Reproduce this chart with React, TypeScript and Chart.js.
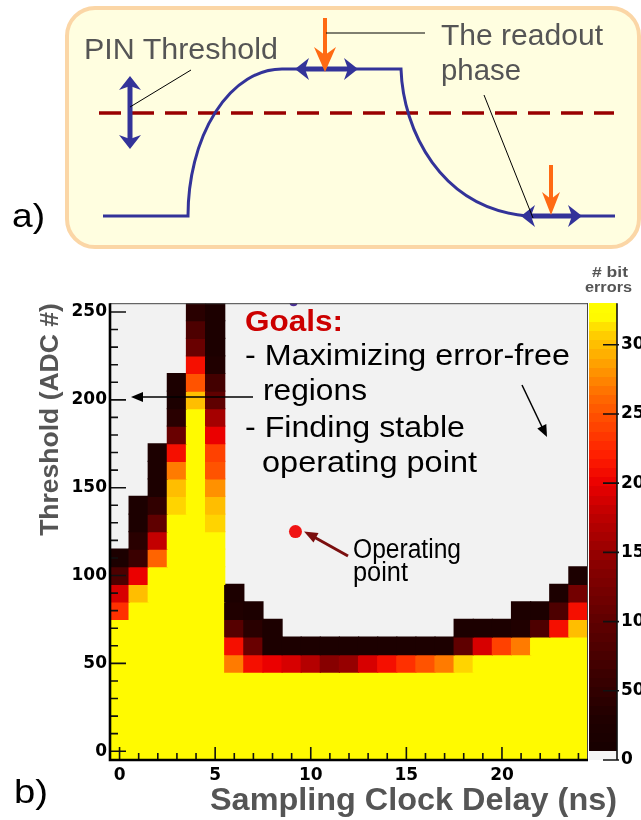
import React, { useEffect, useRef } from "react";
import { Chart, registerables } from "chart.js";
Chart.register(...registerables);

// ---------- data ----------
const delays = [0, 1, 2, 3, 4, 5, 6, 7, 8, 9, 10, 11, 12, 13, 14, 15, 16, 17, 18, 19, 20, 21, 22, 23, 24];
const thresholds = [250, 240, 230, 220, 210, 200, 190, 180, 170, 160, 150, 140, 130, 120, 110, 100, 90, 80, 70, 60, 50, 40, 30, 20, 10, 0];
// bit errors per threshold row (top to bottom), one value per delay column
const bitErrors = [
  [0, 0, 0, 0, 40, 20, 0, 0, 0, 0, 0, 0, 0, 0, 0, 0, 0, 0, 0, 0, 0, 0, 0, 0, 0],
  [0, 0, 0, 0, 80, 20, 0, 0, 0, 0, 0, 0, 0, 0, 0, 0, 0, 0, 0, 0, 0, 0, 0, 0, 0],
  [0, 0, 0, 0, 110, 20, 0, 0, 0, 0, 0, 0, 0, 0, 0, 0, 0, 0, 0, 0, 0, 0, 0, 0, 0],
  [0, 0, 0, 0, 210, 30, 0, 0, 0, 0, 0, 0, 0, 0, 0, 0, 0, 0, 0, 0, 0, 0, 0, 0, 0],
  [0, 0, 0, 20, 250, 70, 0, 0, 0, 0, 0, 0, 0, 0, 0, 0, 0, 0, 0, 0, 0, 0, 0, 0, 0],
  [0, 0, 0, 20, 300, 100, 0, 0, 0, 0, 0, 0, 0, 0, 0, 0, 0, 0, 0, 0, 0, 0, 0, 0, 0],
  [0, 0, 0, 40, 320, 160, 0, 0, 0, 0, 0, 0, 0, 0, 0, 0, 0, 0, 0, 0, 0, 0, 0, 0, 0],
  [0, 0, 0, 110, 320, 200, 0, 0, 0, 0, 0, 0, 0, 0, 0, 0, 0, 0, 0, 0, 0, 0, 0, 0, 0],
  [0, 0, 20, 210, 320, 240, 0, 0, 0, 0, 0, 0, 0, 0, 0, 0, 0, 0, 0, 0, 0, 0, 0, 0, 0],
  [0, 0, 20, 270, 320, 250, 0, 0, 0, 0, 0, 0, 0, 0, 0, 0, 0, 0, 0, 0, 0, 0, 0, 0, 0],
  [0, 0, 20, 300, 320, 280, 0, 0, 0, 0, 0, 0, 0, 0, 0, 0, 0, 0, 0, 0, 0, 0, 0, 0, 0],
  [0, 20, 50, 310, 320, 300, 0, 0, 0, 0, 0, 0, 0, 0, 0, 0, 0, 0, 0, 0, 0, 0, 0, 0, 0],
  [0, 20, 100, 320, 320, 310, 0, 0, 0, 0, 0, 0, 0, 0, 0, 0, 0, 0, 0, 0, 0, 0, 0, 0, 0],
  [0, 40, 180, 320, 320, 320, 0, 0, 0, 0, 0, 0, 0, 0, 0, 0, 0, 0, 0, 0, 0, 0, 0, 0, 0],
  [20, 60, 260, 320, 320, 320, 0, 0, 0, 0, 0, 0, 0, 0, 0, 0, 0, 0, 0, 0, 0, 0, 0, 0, 0],
  [80, 200, 320, 320, 320, 320, 0, 0, 0, 0, 0, 0, 0, 0, 0, 0, 0, 0, 0, 0, 0, 0, 0, 0, 20],
  [190, 300, 320, 320, 320, 320, 20, 0, 0, 0, 0, 0, 0, 0, 0, 0, 0, 0, 0, 0, 0, 0, 0, 20, 120],
  [230, 320, 320, 320, 320, 320, 30, 20, 0, 0, 0, 0, 0, 0, 0, 0, 0, 0, 0, 0, 0, 20, 20, 80, 210],
  [320, 320, 320, 320, 320, 320, 90, 40, 20, 0, 0, 0, 0, 0, 0, 0, 0, 0, 20, 20, 20, 30, 80, 210, 300],
  [320, 320, 320, 320, 320, 320, 210, 110, 20, 20, 20, 20, 20, 20, 20, 20, 20, 20, 100, 190, 240, 270, 320, 320, 320],
  [320, 320, 320, 320, 320, 320, 270, 210, 200, 190, 170, 140, 150, 190, 210, 230, 250, 270, 310, 320, 320, 320, 320, 320, 320],
  [320, 320, 320, 320, 320, 320, 320, 320, 320, 320, 320, 320, 320, 320, 320, 320, 320, 320, 320, 320, 320, 320, 320, 320, 320],
  [320, 320, 320, 320, 320, 320, 320, 320, 320, 320, 320, 320, 320, 320, 320, 320, 320, 320, 320, 320, 320, 320, 320, 320, 320],
  [320, 320, 320, 320, 320, 320, 320, 320, 320, 320, 320, 320, 320, 320, 320, 320, 320, 320, 320, 320, 320, 320, 320, 320, 320],
  [320, 320, 320, 320, 320, 320, 320, 320, 320, 320, 320, 320, 320, 320, 320, 320, 320, 320, 320, 320, 320, 320, 320, 320, 320],
  [320, 320, 320, 320, 320, 320, 320, 320, 320, 320, 320, 320, 320, 320, 320, 320, 320, 320, 320, 320, 320, 320, 320, 320, 320],
];
const xTickValues = [0, 5, 10, 15, 20];
const yTickValues = [0, 50, 100, 150, 200, 250];
const zTickValues = [0, 50, 100, 150, 200, 250, 300];
const operatingPoint = [{ x: 9.2, y: 125 }];
const topMarker = [{ x: 9.1, y: 255.5 }];

const BIN_HALF = 5;
const Z_MAX = 330;

// ---------- palette ----------
const paletteStops: [number, number[]][] = [
  [5, [22, 0, 0]],
  [30, [32, 0, 0]],
  [60, [58, 0, 0]],
  [100, [95, 0, 0]],
  [140, [135, 0, 0]],
  [180, [195, 0, 0]],
  [200, [235, 0, 0]],
  [220, [255, 30, 0]],
  [240, [255, 65, 0]],
  [260, [255, 100, 0]],
  [280, [255, 145, 0]],
  [300, [255, 190, 0]],
  [310, [255, 212, 0]],
  [320, [255, 250, 0]],
  [330, [255, 255, 0]],
];
function paletteColor(v: number): string {
  if (v <= 0) return "rgba(0,0,0,0)";
  const s = paletteStops;
  if (v <= s[0][0]) return `rgb(${s[0][1].join(",")})`;
  for (let i = 1; i < s.length; i++) {
    if (v <= s[i][0]) {
      const t = (v - s[i - 1][0]) / (s[i][0] - s[i - 1][0]);
      const c = s[i - 1][1].map((a, k) => Math.round(a + (s[i][1][k] - a) * t));
      return `rgb(${c.join(",")})`;
    }
  }
  return `rgb(${s[s.length - 1][1].join(",")})`;
}

const tickFont = { family: "'DejaVu Sans', sans-serif", size: 17, weight: "bold" as const };

const bgPlugin = {
  id: "plotBg",
  beforeDatasetsDraw(chart: any) {
    const { ctx, chartArea: a } = chart;
    ctx.save();
    ctx.fillStyle = "#f2f2f2";
    ctx.fillRect(a.left, a.top, a.right - a.left, a.bottom - a.top);
    ctx.restore();
  },
};

const framePlugin = {
  id: "frameTicks",
  afterDatasetsDraw(chart: any) {
    const { ctx, chartArea: a, scales } = chart;
    const x = scales.x;
    const y = scales.y;
    ctx.save();
    ctx.strokeStyle = "#111";
    ctx.lineWidth = 1.6;
    ctx.beginPath();
    delays.forEach((d) => {
      const px = x.getPixelForValue(d);
      const len = xTickValues.includes(d) ? 13 : 7;
      ctx.moveTo(px, a.bottom);
      ctx.lineTo(px, a.bottom - len);
    });
    thresholds.forEach((t) => {
      const py = y.getPixelForValue(t);
      const len = yTickValues.includes(t) ? 16 : 8;
      ctx.moveTo(a.left, py);
      ctx.lineTo(a.left + len, py);
    });
    ctx.stroke();
    ctx.strokeStyle = "#444";
    ctx.lineWidth = 1;
    ctx.beginPath();
    ctx.moveTo(a.left, a.top + 0.5);
    ctx.lineTo(a.right, a.top + 0.5);
    ctx.moveTo(a.right - 0.5, a.top);
    ctx.lineTo(a.right - 0.5, a.bottom);
    ctx.stroke();
    ctx.strokeStyle = "#000";
    ctx.lineWidth = 2.6;
    ctx.beginPath();
    ctx.moveTo(a.left, a.top);
    ctx.lineTo(a.left, a.bottom);
    ctx.lineTo(a.right, a.bottom);
    ctx.stroke();
    ctx.restore();
  },
};

const colorbarPlugin = {
  id: "colorbar",
  afterDraw(chart: any) {
    const { ctx, chartArea: a, scales } = chart;
    const z = scales.z;
    const x0 = a.right + 1;
    const x1 = a.right + 29;
    const nBands = 50;
    ctx.save();
    for (let k = 0; k < nBands; k++) {
      const lo = (k * Z_MAX) / nBands;
      const hi = ((k + 1) * Z_MAX) / nBands;
      const yTop = Math.floor(z.getPixelForValue(hi));
      const yBot = Math.ceil(z.getPixelForValue(lo));
      ctx.fillStyle = k === 0 ? "#f5f5f5" : paletteColor((lo + hi) / 2);
      ctx.fillRect(x0, yTop, x1 - x0, yBot - yTop);
    }
    ctx.strokeStyle = "#111";
    ctx.lineWidth = 1.6;
    ctx.beginPath();
    ctx.moveTo(x1, a.top);
    ctx.lineTo(x1, a.bottom);
    zTickValues.forEach((v) => {
      const py = z.getPixelForValue(v);
      ctx.moveTo(x1 - 14, py);
      ctx.lineTo(x1 + 2, py);
    });
    ctx.stroke();
    ctx.restore();
  },
};

export default function App() {
  const ref = useRef<HTMLCanvasElement>(null);

  useEffect(() => {
    if (!ref.current) return;
    const heatDatasets: any[] = thresholds.map((t, r) => ({
      type: "bar",
      label: `threshold ${t}`,
      data: delays
        .map((d, c) => ({ x: d, y: [t - BIN_HALF, t + BIN_HALF], v: bitErrors[r][c] }))
        .filter((p) => p.v > 0),
      backgroundColor: (ctx: any) => paletteColor(ctx.raw ? ctx.raw.v : 0),
      borderWidth: 0,
      grouped: false,
      barPercentage: 1,
      categoryPercentage: 1,
      inflateAmount: 0.6,
      order: 2,
    }));
    const chart = new Chart(ref.current, {
      type: "bar",
      data: {
        datasets: [
          ...heatDatasets,
          {
            type: "scatter",
            label: "Operating point",
            data: operatingPoint,
            backgroundColor: "#f01414",
            borderWidth: 0,
            pointRadius: 6.5,
            order: 0,
          },
          {
            type: "scatter",
            label: "marker",
            data: topMarker,
            backgroundColor: "#4a2f9a",
            borderWidth: 0,
            pointRadius: 4,
            order: 0,
          },
        ],
      },
      options: {
        animation: false,
        responsive: false,
        devicePixelRatio: 1,
        layout: { padding: { top: 36, left: 0, right: 0, bottom: 0 } },
        plugins: { legend: { display: false }, tooltip: { enabled: false } },
        scales: {
          x: {
            type: "linear",
            min: -0.5,
            max: 24.5,
            offset: false,
            grid: { display: false, drawTicks: false },
            border: { display: false },
            ticks: { font: tickFont, color: "#000", padding: 5, autoSkip: false, maxRotation: 0 },
            afterBuildTicks: (s: any) => {
              s.ticks = xTickValues.map((v) => ({ value: v }));
            },
            afterFit: (s: any) => {
              s.height = 60;
            },
          },
          y: {
            type: "linear",
            min: -5,
            max: 255,
            grid: { display: false, drawTicks: false },
            border: { display: false },
            ticks: { font: tickFont, color: "#000", padding: 3, autoSkip: false },
            afterBuildTicks: (s: any) => {
              s.ticks = yTickValues.map((v) => ({ value: v }));
            },
            afterFit: (s: any) => {
              s.width = 110;
            },
            title: {
              display: true,
              text: "Threshold (ADC #)",
              align: "end",
              color: "#555",
              font: { family: "'Liberation Sans', Arial, sans-serif", size: 26.5, weight: "bold" },
              padding: { top: 35, bottom: 0 },
            },
          },
          z: {
            type: "linear",
            position: "right",
            min: 0,
            max: Z_MAX,
            grid: { display: false, drawTicks: false },
            border: { display: false },
            ticks: { font: tickFont, color: "#000", padding: 33, autoSkip: false },
            afterBuildTicks: (s: any) => {
              s.ticks = zTickValues.map((v) => ({ value: v }));
            },
            afterFit: (s: any) => {
              s.width = 53;
            },
          },
        },
      } as any,
      plugins: [bgPlugin, framePlugin, colorbarPlugin],
    } as any);
    return () => chart.destroy();
  }, []);

  const blue = "#333399";
  const orange = "#ff6a13";
  const font = "'Liberation Sans', Arial, sans-serif";

  return (
    <div style={{ position: "absolute", left: 0, top: 0, width: 641, height: 820, background: "#fff", overflow: "hidden" }}>
      <canvas
        ref={ref}
        width={641}
        height={560}
        style={{ position: "absolute", left: 0, top: 260, width: 641, height: 560, display: "block" }}
      />
      <svg
        width={641}
        height={820}
        style={{ position: "absolute", left: 0, top: 0, pointerEvents: "none" }}
        fontFamily={font}
      >
        {/* ---------- panel a ---------- */}
        <rect x={67} y={8} width={572} height={239} rx={28} ry={28} fill="#fffee0" stroke="#fbd6a6" strokeWidth={4} />
        <line x1={99} y1={113} x2={614} y2={113} stroke="#990000" strokeWidth={3.5} strokeDasharray="22 11" />
        <path
          d="M103 216 H188 A94 147 0 0 1 282 69 H401 C403 130 440 208 527 216 H615"
          fill="none"
          stroke={blue}
          strokeWidth={3}
        />
        {/* plateau double arrow */}
        <line x1={302} y1={69} x2={351} y2={69} stroke={blue} strokeWidth={5} />
        <polygon points="295,69 309,58 305,69 309,80" fill={blue} />
        <polygon points="358,69 344,58 348,69 344,80" fill={blue} />
        {/* vertical double arrow */}
        <line x1={130} y1={84} x2={130} y2={141} stroke={blue} strokeWidth={5} />
        <polygon points="130,76 119,90 130,86 141,90" fill={blue} />
        <polygon points="130,149 119,135 130,139 141,135" fill={blue} />
        {/* right double arrow */}
        <line x1={528} y1={216} x2={575} y2={216} stroke={blue} strokeWidth={5} />
        <polygon points="521,216 535,205 531,216 535,227" fill={blue} />
        <polygon points="582,216 568,205 572,216 568,227" fill={blue} />
        {/* orange arrows */}
        <line x1={325} y1={18} x2={325} y2={60} stroke={orange} strokeWidth={4} />
        <polygon points="325,72 314,47 325,55 336,47" fill={orange} />
        <line x1={551} y1={165} x2={551} y2={203} stroke={orange} strokeWidth={4} />
        <polygon points="551,215 542,192 551,199 560,192" fill={orange} />
        {/* leader lines */}
        <line x1={326} y1={33} x2={425} y2={33} stroke="#000" strokeWidth={1} />
        <line x1={191} y1={70} x2={130} y2={107} stroke="#000" strokeWidth={1} />
        <line x1={484} y1={95} x2={533} y2={218} stroke="#000" strokeWidth={1} />
        <text x={84} y={59} fontSize={29} fill="#555" textLength={194} lengthAdjust="spacingAndGlyphs">
          PIN Threshold
        </text>
        <text x={441} y={45} fontSize={29} fill="#555" textLength={162} lengthAdjust="spacingAndGlyphs">
          The readout
        </text>
        <text x={441} y={80} fontSize={29} fill="#555" textLength={80} lengthAdjust="spacingAndGlyphs">
          phase
        </text>
        <text x={12} y={227} fontSize={34} fill="#000" textLength={33} lengthAdjust="spacingAndGlyphs">
          a)
        </text>

        {/* ---------- panel b annotations ---------- */}
        <text x={14} y={803} fontSize={34} fill="#000" textLength={34} lengthAdjust="spacingAndGlyphs">
          b)
        </text>
        <text x={245} y={331} fontSize={29} fontWeight="bold" fill="#cc0000" textLength={98} lengthAdjust="spacingAndGlyphs">
          Goals:
        </text>
        <text x={245} y={365} fontSize={29} fill="#000" textLength={325} lengthAdjust="spacingAndGlyphs">
          - Maximizing error-free
        </text>
        <text x={263} y={400} fontSize={29} fill="#000" textLength={104} lengthAdjust="spacingAndGlyphs">
          regions
        </text>
        <text x={245} y={437} fontSize={29} fill="#000" textLength={220} lengthAdjust="spacingAndGlyphs">
          - Finding stable
        </text>
        <text x={262} y={472} fontSize={29} fill="#000" textLength={215} lengthAdjust="spacingAndGlyphs">
          operating point
        </text>
        {/* arrow to threshold axis */}
        <line x1={253} y1={397} x2={140} y2={397} stroke="#000" strokeWidth={1.5} />
        <polygon points="131,397 143,392 143,402" fill="#000" />
        {/* arrow into error-free region */}
        <line x1={522} y1={385} x2={543} y2={429} stroke="#000" strokeWidth={1.5} />
        <polygon points="547,437 546.3,424 537.3,428.4" fill="#000" />
        {/* operating point arrow */}
        <line x1={348} y1={556} x2={314} y2={537} stroke="#7b0f0f" strokeWidth={3} />
        <polygon points="304,531.5 318.5,533 313.5,542.5" fill="#7b0f0f" />
        <text x={353} y={558} fontSize={27} fill="#000" textLength={108} lengthAdjust="spacingAndGlyphs">
          Operating
        </text>
        <text x={353} y={581} fontSize={27} fill="#000" textLength={55} lengthAdjust="spacingAndGlyphs">
          point
        </text>
        {/* colour bar label */}
        <text x={592} y={277} fontSize={14} fontWeight="bold" fill="#555" textLength={36} lengthAdjust="spacingAndGlyphs">
          # bit
        </text>
        <text x={585} y={292} fontSize={14} fontWeight="bold" fill="#555" textLength={47} lengthAdjust="spacingAndGlyphs">
          errors
        </text>
        {/* x-axis title */}
        <text x={210} y={810} fontSize={31} fontWeight="bold" fill="#555" textLength={407} lengthAdjust="spacingAndGlyphs">
          Sampling Clock Delay (ns)
        </text>
      </svg>
    </div>
  );
}
